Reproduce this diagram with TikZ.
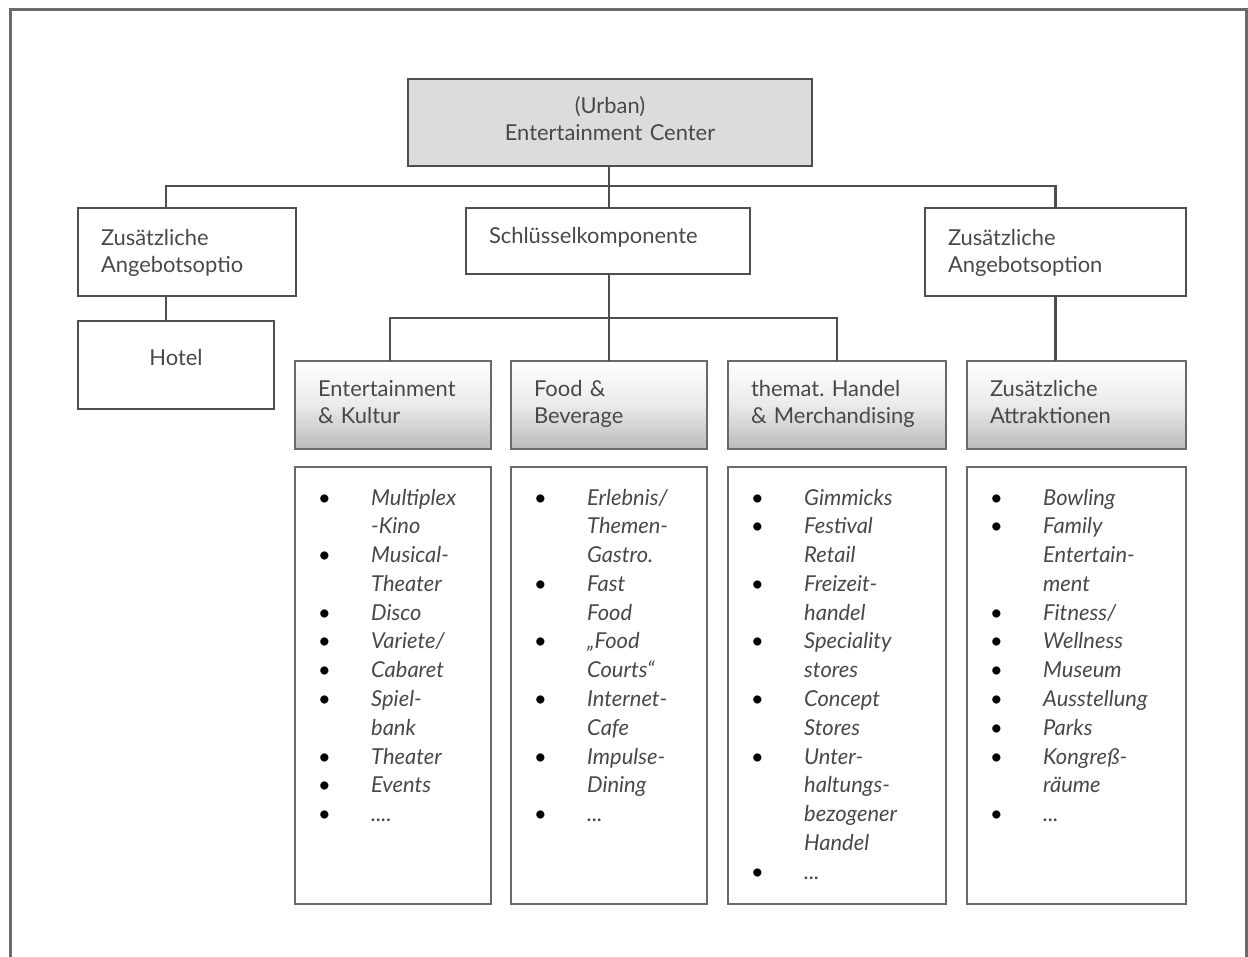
\documentclass[tikz,border=0pt]{standalone}
\usepackage{fontspec}
\setmainfont{Lato}
\frenchspacing
\definecolor{txt}{HTML}{484848}
\definecolor{ln}{HTML}{4E4E4E}
\definecolor{lnl}{HTML}{6A6A6A}
\definecolor{topfill}{HTML}{DCDCDE}
\newcommand\bitem[1]{\par\noindent\hangindent=53bp\hangafter=1\makebox[53bp][l]{\color{black}\textbullet}{\def\\{\hfil\break}#1}\par}
\newenvironment{blist}{\begin{minipage}[t]{160bp}\raggedright\fontsize{22}{28.9}\selectfont\itshape}{\end{minipage}}
\begin{document}
\begin{tikzpicture}[x=1bp,y=-1bp,
  box/.style={draw=ln, line width=2.6bp, rectangle, outer sep=0pt, inner ysep=0pt, inner xsep=23bp,
    font=\fontsize{22}{27.5}\selectfont, text=txt, align=left, anchor=north west},
  hbox/.style={box, draw=lnl, top color=white, bottom color=black!27, middle color=black!8},
  lbox/.style={draw=lnl, line width=2.6bp, rectangle, outer sep=0pt, inner sep=0pt, anchor=north west},
  conn/.style={draw=ln, line width=2.4bp},
  lst/.style={anchor=base west, inner sep=0pt, text=txt}
]
\useasboundingbox (0,0) rectangle (1248,957);
% outer frame (open at bottom)
\draw[draw=lnl, line width=3bp] (10,962) -- (10,9) -- (1246,9) -- (1246,962);

% top box
\node[box, fill=topfill, align=center, text width=358bp, minimum height=87bp] (top) at (408,79) {(Urban)\\Entertainment Center\\[-19bp]\mbox{}};

% second level
\node[box, text width=172bp, minimum height=88bp] (zl) at (78,208) {Zusätzliche\\Angebotsoptio\\[-25bp]\mbox{}};
\node[box, text width=238bp, minimum height=66bp] (sk) at (466,208) {Schlüsselkomponente\\[-17bp]\mbox{}};
\node[box, text width=215bp, minimum height=88bp] (zr) at (925,208) {Zusätzliche\\Angebotsoption\\[-25bp]\mbox{}};
\node[box, align=center, text width=150bp, minimum height=88bp] (hotel) at (78,321) {Hotel\\[-13bp]\mbox{}};

% header boxes
\node[hbox, text width=150bp, minimum height=88bp] (ent) at (295,361) {Entertainment\\\& Kultur\\[-21bp]\mbox{}};
\node[hbox, text width=150bp, minimum height=88bp] (food) at (511,361) {Food \&\\Beverage\\[-21bp]\mbox{}};
\node[hbox, text width=172bp, minimum height=88bp] (han) at (728,361) {themat. Handel\\\& Merchandising\\[-21bp]\mbox{}};
\node[hbox, text width=173bp, minimum height=88bp] (attr) at (967,361) {Zusätzliche\\Attraktionen\\[-21bp]\mbox{}};

% list boxes
\node[lbox, minimum width=196bp, minimum height=437bp] (l1) at (295,467) {};
\node[lbox, minimum width=196bp, minimum height=437bp] (l2) at (511,467) {};
\node[lbox, minimum width=218bp, minimum height=437bp] (l3) at (728,467) {};
\node[lbox, minimum width=219bp, minimum height=437bp] (l4) at (967,467) {};

\node[lst] (t1) at (318,505) {\begin{blist}
\bitem{Multiplex\\-Kino}
\bitem{Musical-\\Theater}
\bitem{Disco}
\bitem{Variete/}
\bitem{Cabaret}
\bitem{Spiel-\\bank}
\bitem{Theater}
\bitem{Events}
\bitem{....}
\end{blist}};
\node[lst] (t2) at (534,505) {\begin{blist}
\bitem{Erlebnis/\\Themen-\\Gastro.}
\bitem{Fast\\Food}
\bitem{„Food\\Courts“}
\bitem{Internet-\\Cafe}
\bitem{Impulse-\\Dining}
\bitem{...}
\end{blist}};
\node[lst] (t3) at (751,505) {\begin{blist}
\bitem{Gimmicks}
\bitem{Festival\\Retail}
\bitem{Freizeit-\\handel}
\bitem{Speciality\\stores}
\bitem{Concept\\Stores}
\bitem{Unter-\\haltungs-\\bezogener\\Handel}
\bitem{...}
\end{blist}};
\node[lst] (t4) at (990,505) {\begin{blist}
\bitem{Bowling}
\bitem{Family\\Entertain-\\ment}
\bitem{Fitness/}
\bitem{Wellness}
\bitem{Museum}
\bitem{Ausstellung}
\bitem{Parks}
\bitem{Kongreß-\\räume}
\bitem{...}
\end{blist}};

% connectors
\coordinate (lx) at (166,186);
\coordinate (cx) at (609,186);
\coordinate (bus2) at (609,318);
\coordinate (ex) at (390,318);
\draw[conn] (cx |- top.south) -- (cx |- sk.north);
\draw[conn] (lx |- zl.north) -- (lx) -- (lx -| zr.north) -- (zr.north);
\draw[conn] (lx |- zl.south) -- (lx |- hotel.north);
\draw[conn] (bus2 |- sk.south) -- (bus2 |- food.north);
\draw[conn] (ex |- ent.north) -- (ex) -- (ex -| han.north) -- (han.north);
\draw[conn] (zr.south) -- (zr.south |- attr.north);
\end{tikzpicture}
\end{document}
